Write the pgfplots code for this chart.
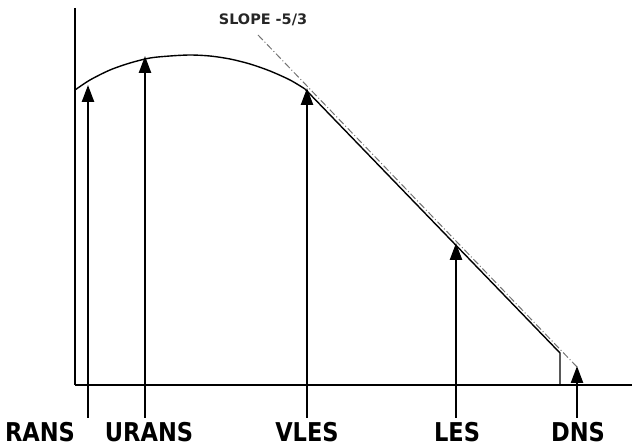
\documentclass[border=0pt]{standalone}
\usepackage{pgfplots}
\pgfplotsset{compat=1.18}
\usepackage{graphicx}
\usepackage{fontspec}
\setmainfont{DejaVu Sans}
\usetikzlibrary{arrows.meta}
\begin{document}
\begin{tikzpicture}
\begin{axis}[
  scale only axis, width=635bp, height=448bp,
  xmin=0, xmax=635, ymin=0, ymax=448,
  hide axis, clip=false, anchor=south west, at={(0,0)},
]
% axes
\addplot[black, line width=1.7pt] coordinates {(75,440) (75,63)};
\addplot[black, line width=1.7pt] coordinates {(75,63) (632,63)};
% energy spectrum curve
\addplot[black, line width=1.4pt, smooth, tension=0.5] coordinates {
 (75,358) (90,368) (110,378) (130,385) (150,390) (170,392) (190,393)
 (210,392) (230,389) (250,384) (270,377) (290,368) (305,359)};
\addplot[black, line width=1.4pt] coordinates {(305,359) (560,95) (560,63)};
% slope -5/3 line
\addplot[black!55, line width=1pt, dash pattern=on 7pt off 2.5pt on 1pt off 2.5pt] coordinates {(258,413) (578,80)};
% arrows
\pgfplotsset{arr/.style={black, line width=2.4pt, -{Triangle[length=17pt,width=12pt]}}}
\addplot[arr] coordinates {(88,30) (88,363)};
\addplot[arr] coordinates {(145,30) (145,392)};
\addplot[arr] coordinates {(307,30) (307,360)};
\addplot[arr] coordinates {(456,30) (456,205)};
\addplot[arr] coordinates {(577,30) (577,82)};
% labels
\tikzset{lab/.style={font=\fontsize{26}{26}\selectfont\bfseries, anchor=base, inner sep=0pt}}
\node[lab] at (axis cs:40,7) {\scalebox{0.87}[1]{RANS}};
\node[lab] at (axis cs:149,7) {\scalebox{0.87}[1]{URANS}};
\node[lab] at (axis cs:307,7) {\scalebox{0.87}[1]{VLES}};
\node[lab] at (axis cs:457,7) {\scalebox{0.87}[1]{LES}};
\node[lab] at (axis cs:578,7) {\scalebox{0.87}[1]{DNS}};
\node[font=\fontsize{14.5}{14.5}\selectfont\bfseries, text=black!85] at (axis cs:263,428) {SLOPE -5/3};
\end{axis}
\pgfresetboundingbox
\path[use as bounding box] (0,0) rectangle (635bp,448bp);
\end{tikzpicture}
\end{document}
